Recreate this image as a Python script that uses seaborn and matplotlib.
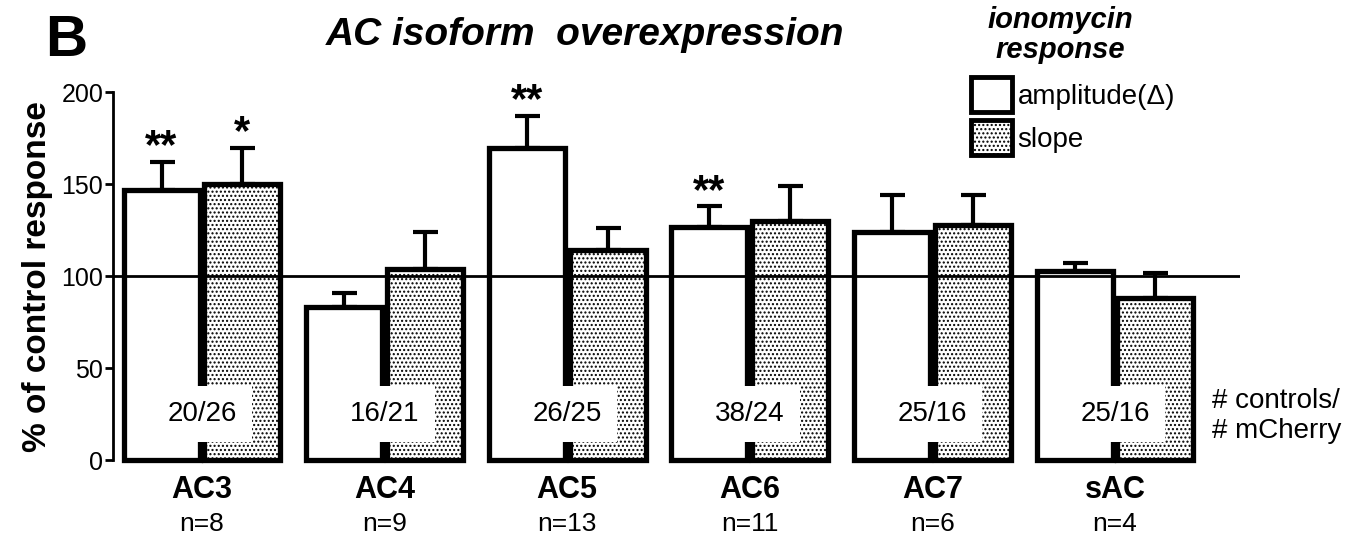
import seaborn as sns
import matplotlib.pyplot as plt
import pandas as pd
from matplotlib.patches import Patch

# data
groups = ["AC3", "AC4", "AC5", "AC6", "AC7", "sAC"]
n_cells = ["n=8", "n=9", "n=13", "n=11", "n=6", "n=4"]
amplitude = [147, 83, 170, 127, 124, 103]
amplitude_err = [15, 8, 17, 11, 20, 4]
slope = [150, 104, 114, 130, 128, 88]
slope_err = [20, 20, 12, 19, 16, 14]
counts = ["20/26", "16/21", "26/25", "38/24", "25/16", "25/16"]
stars_amp = ["**", "", "**", "**", "", ""]
stars_slope = ["*", "", "", "", "", ""]

df = pd.DataFrame({
    "isoform": groups * 2,
    "measure": ["amplitude"] * 6 + ["slope"] * 6,
    "value": amplitude + slope,
})
errs = amplitude_err + slope_err
stars = stars_amp + stars_slope

sns.set_style("white")
plt.rcParams['font.family'] = ['Liberation Sans', 'DejaVu Sans']
plt.rcParams['hatch.linewidth'] = 1.0
for key in ["text.color", "axes.labelcolor", "xtick.color", "ytick.color"]:
    plt.rcParams[key] = "black"

fig = plt.figure(figsize=(13.65, 5.4), dpi=100)
ax = fig.add_axes([0.0828, 0.148, 0.8256, 0.681])

sns.barplot(data=df, x="isoform", y="value", hue="measure",
            palette=["white", "white"], saturation=1, width=0.885, gap=0.06,
            edgecolor="black", linewidth=3.8, errorbar=None,
            legend=False, ax=ax)

bars = ax.patches[:12]
for k, p in enumerate(bars):
    p.set_clip_on(False)
    if k >= 6:
        p.set_hatch("....")
    xc = p.get_x() + p.get_width() / 2
    h = p.get_height()
    ax.errorbar(xc, h, yerr=[[0], [errs[k]]], fmt="none", ecolor="black",
                elinewidth=3, capsize=9, capthick=3, zorder=1, clip_on=False)
    if stars[k]:
        ax.text(xc, h + errs[k] + 2, stars[k], ha="center", va="baseline",
                fontsize=30, fontweight="bold")

ax.axhline(100, color="black", lw=2, zorder=5)

for i, c in enumerate(counts):
    ax.text(i, 25, c, ha="center", va="center", fontsize=20, zorder=6,
            bbox=dict(boxstyle="square,pad=0.55", facecolor="white", edgecolor="none"))

ax.set_xlim(-0.487, 5.684)
ax.set_ylim(0, 200)
ax.set_yticks([0, 50, 100, 150, 200])
ax.tick_params(axis="y", direction="out", length=6, width=2, labelsize=18, pad=1, left=True)
ax.set_xticks(range(6))
ax.set_xticklabels(groups, fontweight="bold", fontsize=22)
ax.tick_params(axis="x", length=0, pad=11)
for i, n in enumerate(n_cells):
    ax.text(i, -0.174, n, transform=ax.get_xaxis_transform(), ha="center",
            va="center", fontsize=19)

for s in ["top", "right", "bottom"]:
    ax.spines[s].set_visible(False)
ax.spines["left"].set_linewidth(2)
ax.spines["left"].set_color("black")

ax.set_xlabel("")
ax.set_ylabel("% of control response", fontsize=24, fontweight="bold", labelpad=6)

fig.text(45 / 1365, 1 - 41 / 540, "B", fontsize=42, fontweight="bold", va="center")
fig.text(585 / 1365, 1 - 35 / 540, "AC isoform  overexpression", fontsize=28,
         fontweight="bold", fontstyle="italic", ha="center", va="center")
fig.text(1060 / 1365, 1 - 35 / 540, "ionomycin\nresponse", fontsize=21,
         fontweight="bold", fontstyle="italic", ha="center", va="center",
         linespacing=1.12)
fig.text(1212 / 1365, 1 - 416 / 540, "# controls/\n# mCherry", fontsize=20,
         ha="left", va="center", linespacing=1.15)

handles = [Patch(facecolor="white", edgecolor="black", lw=3.5),
           Patch(facecolor="white", edgecolor="black", lw=3.5, hatch="....")]
fig.legend(handles, ["amplitude(Δ)", "slope"], loc="upper left",
           bbox_to_anchor=(971 / 1365, 1 - 77 / 540), frameon=False,
           fontsize=20, handlelength=1.48, handleheight=1.55, handletextpad=0.2,
           labelspacing=0.3, borderaxespad=0, borderpad=0)

fig.savefig("out.png", dpi=100)
